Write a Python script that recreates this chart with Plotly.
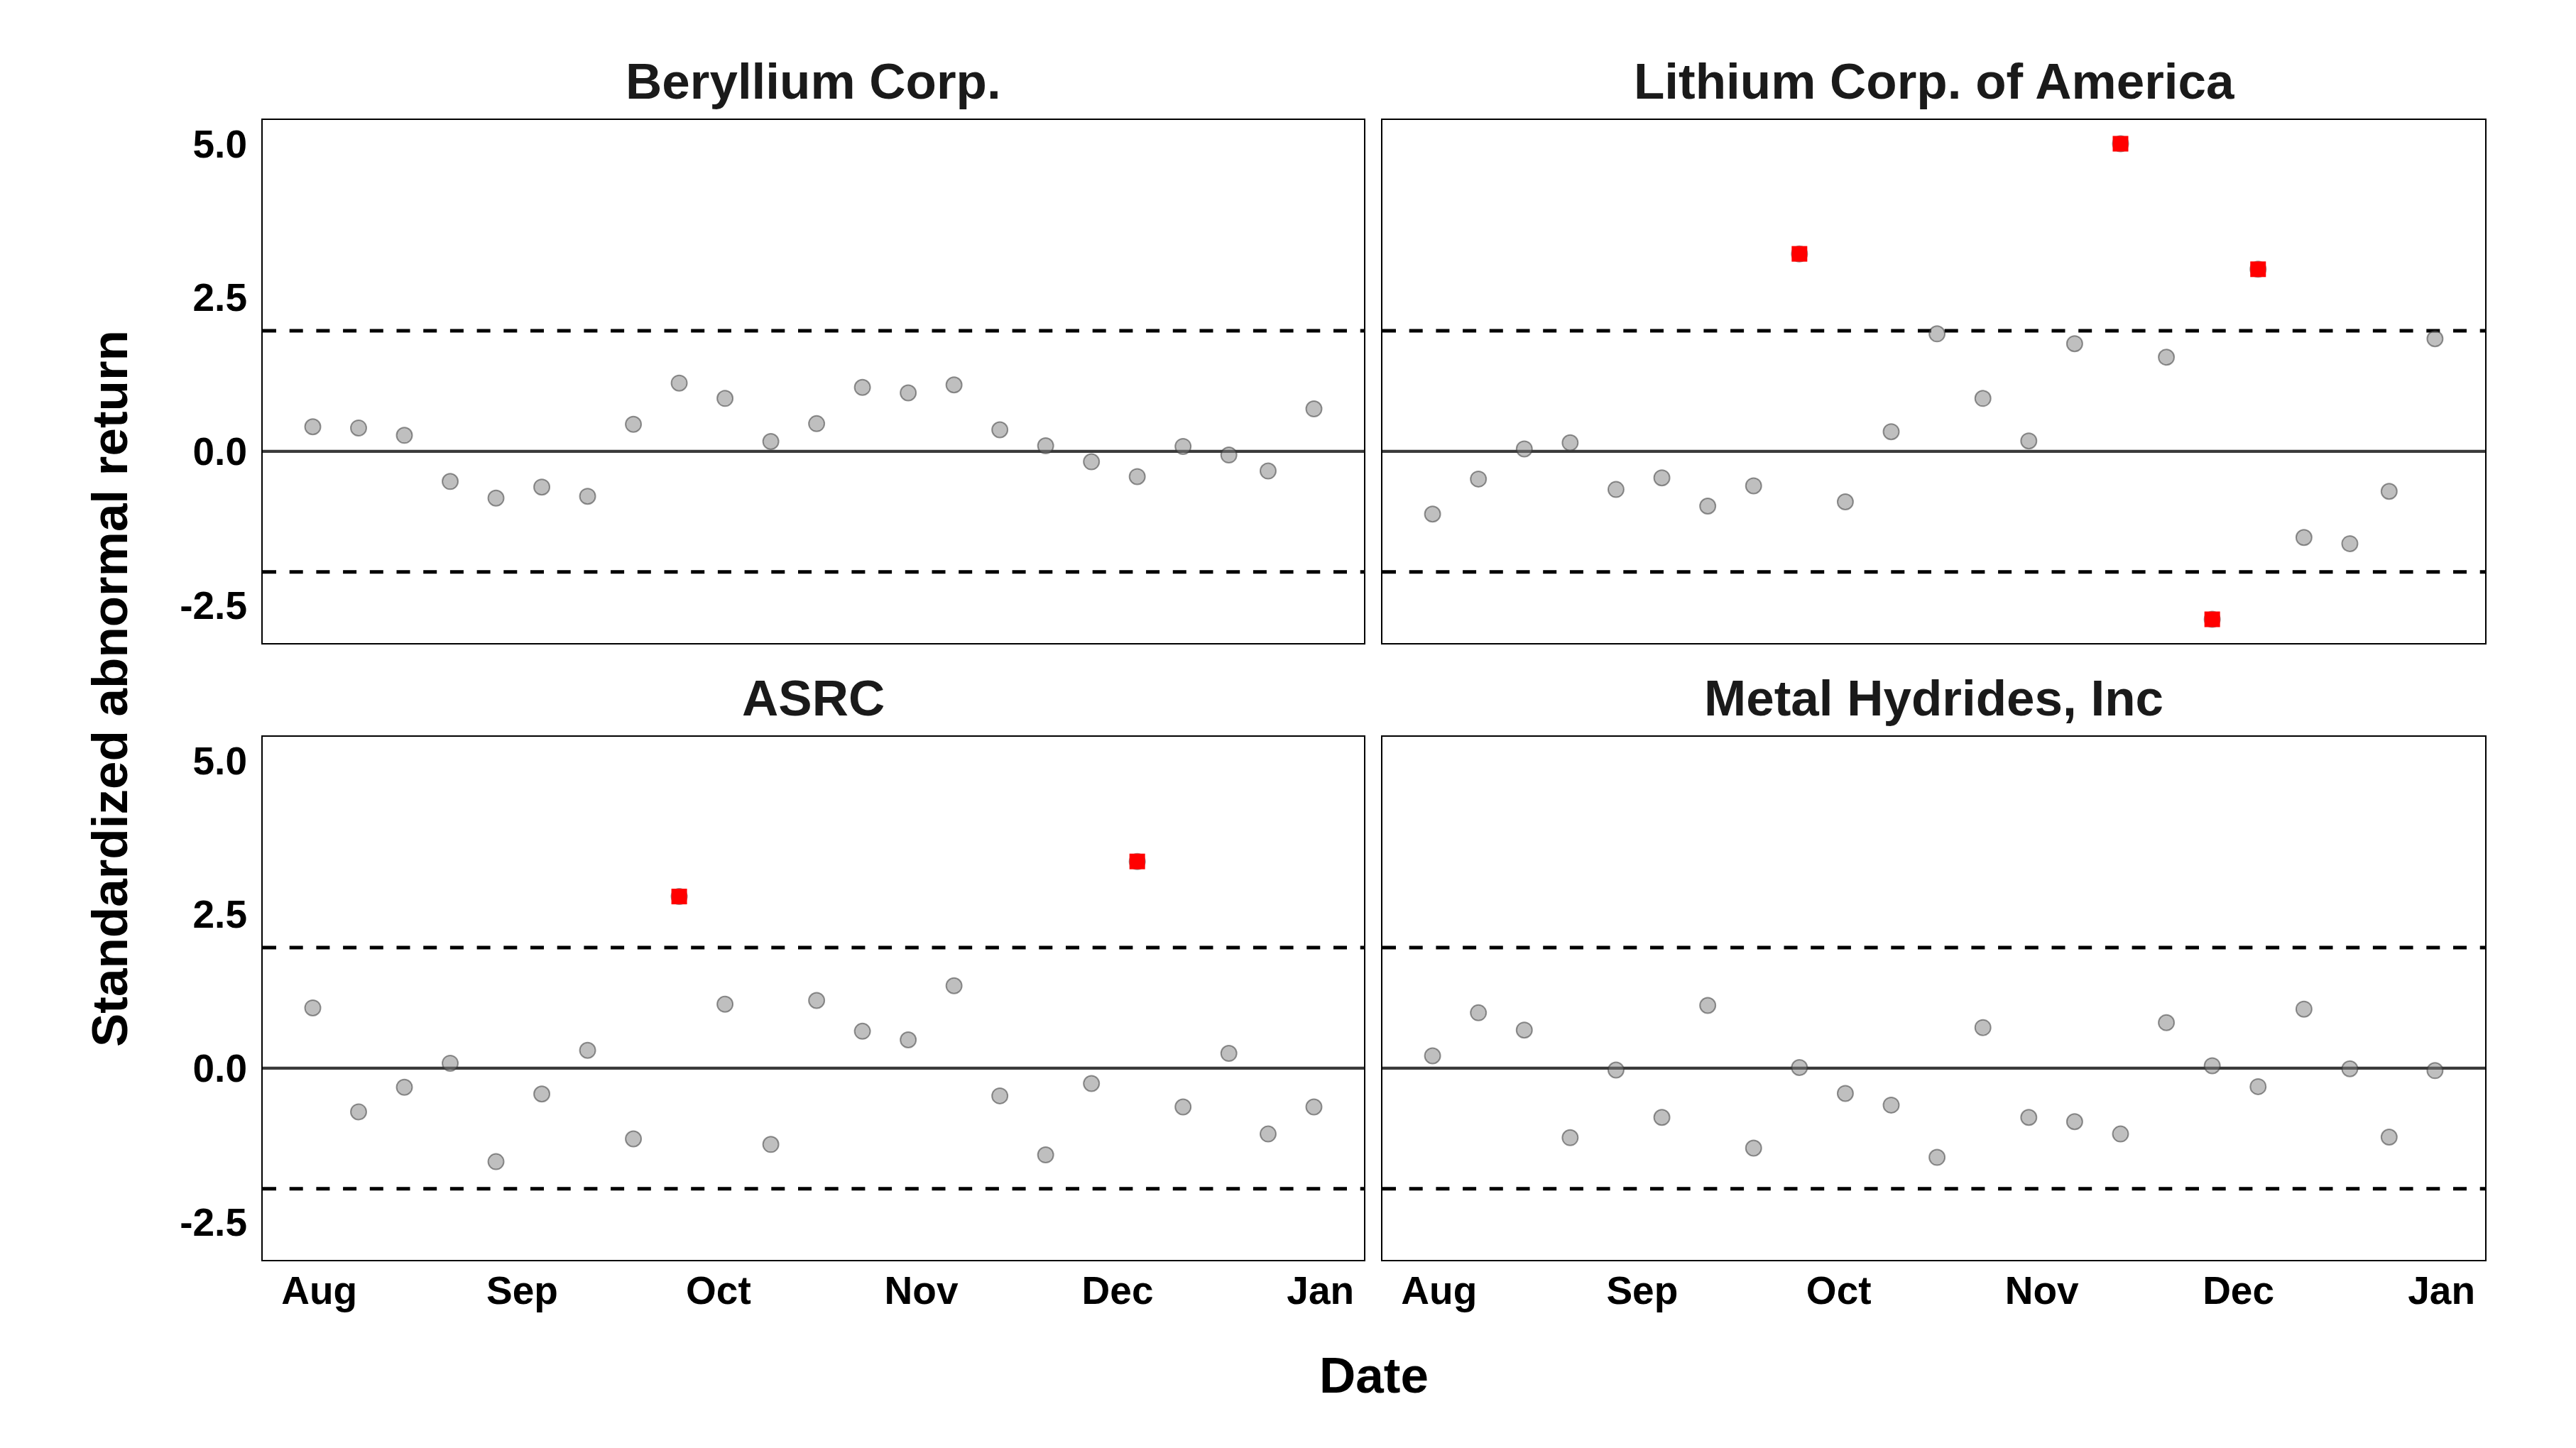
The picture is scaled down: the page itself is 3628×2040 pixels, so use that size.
import pandas as pd
import plotly.graph_objects as go

# ---- data ----
dates = ["1953-07-31", "1953-08-07", "1953-08-14", "1953-08-21", "1953-08-28",
         "1953-09-04", "1953-09-11", "1953-09-18", "1953-09-25", "1953-10-02",
         "1953-10-09", "1953-10-16", "1953-10-23", "1953-10-30", "1953-11-06",
         "1953-11-13", "1953-11-20", "1953-11-27", "1953-12-04", "1953-12-11",
         "1953-12-18", "1953-12-24", "1953-12-31"]

companies = ["Beryllium Corp.", "Lithium Corp. of America", "ASRC", "Metal Hydrides, Inc"]

beryllium = [0.40, 0.38, 0.26, -0.49, -0.76, -0.58, -0.73, 0.44, 1.11, 0.86, 0.16, 0.45,
             1.04, 0.95, 1.08, 0.35, 0.09, -0.17, -0.41, 0.08, -0.06, -0.32, 0.69]
lithium = [-1.02, -0.45, 0.04, 0.14, -0.62, -0.43, -0.89, -0.56, 3.21, -0.82, 0.32, 1.91,
           0.86, 0.17, 1.75, 5.00, 1.53, -2.73, 2.96, -1.40, -1.50, -0.65, 1.83]
asrc = [0.98, -0.71, -0.31, 0.08, -1.52, -0.42, 0.29, -1.15, 2.79, 1.04, -1.24, 1.10,
        0.60, 0.46, 1.34, -0.45, -1.41, -0.25, 3.36, -0.63, 0.24, -1.07, -0.63]
metal = [0.20, 0.90, 0.62, -1.13, -0.03, -0.80, 1.02, -1.30, 0.01, -0.41, -0.60, -1.45,
         0.66, -0.80, -0.87, -1.07, 0.74, 0.04, -0.30, 0.96, -0.01, -1.12, -0.04]

month_ticks = ["1953-08-01", "1953-09-01", "1953-10-01", "1953-11-01", "1953-12-01", "1954-01-01"]
month_labels = ["Aug", "Sep", "Oct", "Nov", "Dec", "Jan"]
y_ticks = [-2.5, 0.0, 2.5, 5.0]
y_labels = ["-2.5", "0.0", "2.5", "5.0"]
threshold = 1.96

series = [beryllium, lithium, asrc, metal]

# ---- layout geometry (target screen pixels; page body has an 8px margin) ----
W, H = 3628, 2040
OFF = 8
FONT = "Liberation Sans, Arial, Helvetica, sans-serif"

def px_x(p):
    return (p - OFF) / W

def px_y(p):
    return 1 - (p - OFF) / H

col_dom = [[px_x(370), px_x(1921)], [px_x(1947), px_x(3500)]]
row_dom = [[px_y(906), px_y(169)], [px_y(1775), px_y(1038)]]

# ranges with 5% expansion (ggplot style)
d = pd.to_datetime(dates)
span = d.max() - d.min()
xr = [(d.min() - span * 0.05).strftime("%Y-%m-%d %H:%M:%S"),
      (d.max() + span * 0.05).strftime("%Y-%m-%d %H:%M:%S")]
allv = beryllium + lithium + asrc + metal
vmin, vmax = min(allv), max(allv)
vs = vmax - vmin
yr = [vmin - 0.05 * vs, vmax + 0.05 * vs]

fig = go.Figure()
layout = dict(
    width=W, height=H,
    margin=dict(l=0, r=0, t=0, b=0),
    paper_bgcolor="white", plot_bgcolor="white",
    showlegend=False,
    font=dict(family=FONT, color="black"),
)
shapes = []
annotations = []

for i, (name, vals) in enumerate(zip(companies, series)):
    r, c = divmod(i, 2)
    n = i + 1
    xa = "x" if n == 1 else f"x{n}"
    ya = "y" if n == 1 else f"y{n}"
    xkey = "xaxis" if n == 1 else f"xaxis{n}"
    ykey = "yaxis" if n == 1 else f"yaxis{n}"

    layout[xkey] = dict(
        domain=col_dom[c], anchor=ya, type="date", range=xr,
        tickvals=month_ticks, ticktext=month_labels,
        showticklabels=(r == 1), ticks="", showgrid=False, zeroline=False,
        showline=True, mirror=True, linecolor="black", linewidth=2,
        tickfont=dict(family=FONT, size=55, color="black", weight="bold"),
        ticklabelstandoff=0,
    )
    layout[ykey] = dict(
        domain=row_dom[r], anchor=xa, range=yr,
        tickvals=y_ticks, ticktext=y_labels,
        showticklabels=(c == 0), ticks="", showgrid=False, zeroline=False,
        showline=True, mirror=True, linecolor="black", linewidth=2,
        tickfont=dict(family=FONT, size=55, color="black", weight="bold"),
        ticklabelstandoff=9,
    )

    # reference lines
    shapes.append(dict(type="line", xref=f"{xa} domain", yref=ya, x0=0, x1=1, y0=0, y1=0,
                       line=dict(color="#3a3a3a", width=4.2), layer="below"))
    for lvl in (threshold, -threshold):
        shapes.append(dict(type="line", xref=f"{xa} domain", yref=ya, x0=0, x1=1, y0=lvl, y1=lvl,
                           line=dict(color="black", width=5, dash="19px,18.7px"), layer="below"))

    # all points as translucent gray circles
    fig.add_trace(go.Scatter(
        x=dates, y=vals, mode="markers", xaxis=xa, yaxis=ya,
        marker=dict(symbol="circle", size=22, color="rgba(127,127,127,0.5)",
                    line=dict(color="rgba(50,50,50,0.5)", width=2)),
        hoverinfo="x+y",
    ))
    # significant points as red squares on top
    sig_x = [dt for dt, v in zip(dates, vals) if abs(v) > threshold]
    sig_y = [v for v in vals if abs(v) > threshold]
    fig.add_trace(go.Scatter(
        x=sig_x, y=sig_y, mode="markers", xaxis=xa, yaxis=ya,
        marker=dict(symbol="square", size=22, color="#FF0000", line=dict(width=0)),
        hoverinfo="x+y",
    ))

    # strip title
    cx = (col_dom[c][0] + col_dom[c][1]) / 2
    top_px = 169 if r == 0 else 1038
    annotations.append(dict(
        text=name, x=cx, y=px_y(top_px - 13), xref="paper", yref="paper",
        xanchor="center", yanchor="bottom", showarrow=False,
        font=dict(family=FONT, size=71, color="#1a1a1a", weight="bold"),
    ))

annotations.append(dict(
    text="Standardized abnormal return", x=px_x(154), y=px_y(970), xref="paper", yref="paper",
    xanchor="center", yanchor="middle", textangle=-90, showarrow=False,
    font=dict(family=FONT, size=71, color="black", weight="bold"),
))
annotations.append(dict(
    text="Date", x=px_x(1935), y=px_y(1937), xref="paper", yref="paper",
    xanchor="center", yanchor="middle", showarrow=False,
    font=dict(family=FONT, size=71, color="black", weight="bold"),
))

layout["shapes"] = shapes
layout["annotations"] = annotations
fig.update_layout(**layout)

# pull the x tick labels a little closer to the panels where supported
try:
    fig.update_layout(xaxis3_ticklabelstandoff=-6, xaxis4_ticklabelstandoff=-6)
except ValueError:
    pass

fig.write_html("out.html")
